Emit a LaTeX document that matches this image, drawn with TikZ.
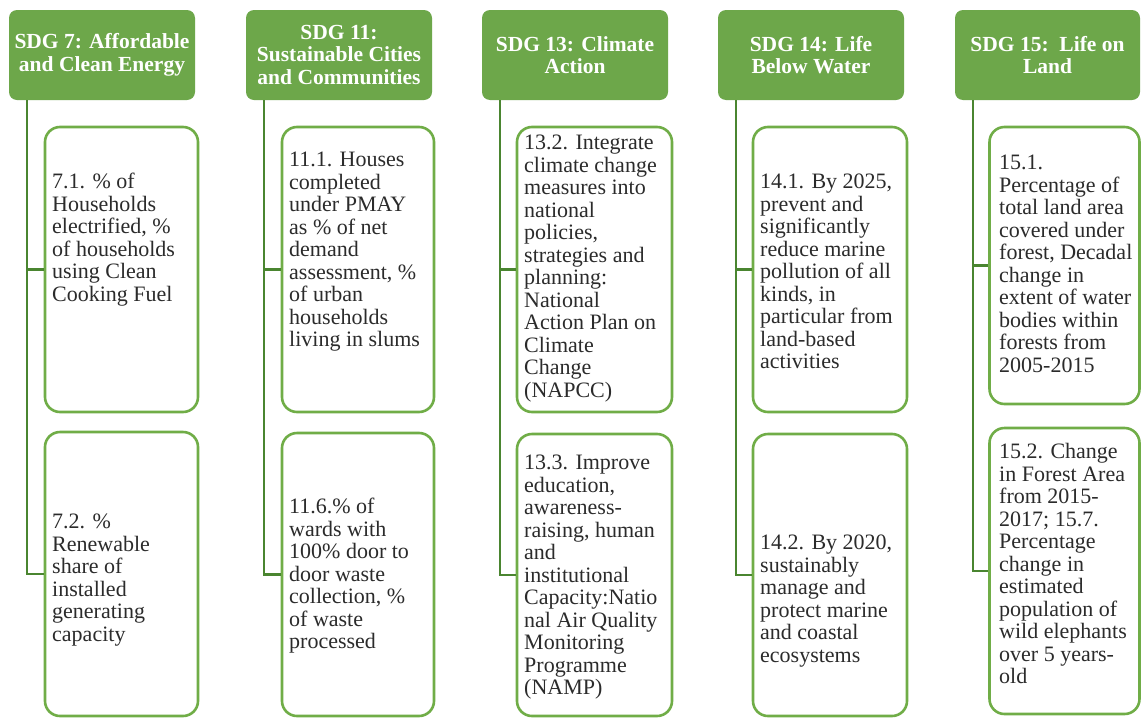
\documentclass[tikz,border=0pt]{standalone}
\usepackage{fontspec}
\setmainfont{Liberation Serif}
\definecolor{hdrgreen}{HTML}{6DA74A}
\definecolor{boxgreen}{HTML}{70AD47}
\definecolor{conngreen}{HTML}{4A8530}
\definecolor{txtgray}{HTML}{2B2B2B}
\tikzset{
  hdr/.style={rectangle, rounded corners=8pt, fill=hdrgreen, draw=none, text=white,
    font=\fontsize{21.5}{22.5}\selectfont\bfseries, align=center, inner sep=0pt},
  sbox/.style={rectangle, rounded corners=15pt, draw=boxgreen, line width=2.6pt, fill=white, inner sep=0pt},
  txt/.style={anchor=north west, inner sep=0pt, align=left, text=txtgray,
    font=\fontsize{22}{22.5}\selectfont},
  conn/.style={draw=conngreen, line width=2.4pt}
}
\begin{document}
\begin{tikzpicture}[x=1pt,y=-1pt]
\useasboundingbox[fill=white] (0,0) rectangle (1141,718);
% headers
\node[hdr, minimum width=186pt, minimum height=90pt] (h1) at (102,55) {SDG 7: Affordable\\and Clean Energy};
\node[hdr, minimum width=186pt, minimum height=90pt] (h2) at (339,55) {SDG 11:\\Sustainable Cities\\and Communities};
\node[hdr, minimum width=186pt, minimum height=90pt] (h3) at (575,55) {SDG 13: Climate\\Action};
\node[hdr, minimum width=186pt, minimum height=90pt] (h4) at (811,55) {SDG 14: Life\\Below Water};
\node[hdr, minimum width=185pt, minimum height=90pt] (h5) at (1047.5,55) {SDG 15:\ \ Life on\\Land};
% boxes
\node[sbox, minimum width=153pt, minimum height=285pt] (b11) at (121.5,269.5) {};
\node[sbox, minimum width=153pt, minimum height=284pt] (b12) at (121.5,574) {};
\node[sbox, minimum width=152pt, minimum height=285pt] (b21) at (358,269.5) {};
\node[sbox, minimum width=152pt, minimum height=283pt] (b22) at (358,574.5) {};
\node[sbox, minimum width=155pt, minimum height=285pt] (b31) at (594.5,269.5) {};
\node[sbox, minimum width=155pt, minimum height=282pt] (b32) at (594.5,575) {};
\node[sbox, minimum width=154pt, minimum height=285pt] (b41) at (830,269.5) {};
\node[sbox, minimum width=154pt, minimum height=282pt] (b42) at (830,575) {};
\node[sbox, minimum width=150pt, minimum height=277pt] (b51) at (1064.5,265.5) {};
\node[sbox, minimum width=150pt, minimum height=286pt] (b52) at (1064.5,571) {};
% connectors
\foreach \c in {1,...,5}{
  \draw[conn] ([xshift=18pt]h\c.south west) |- (b\c1.west);
  \draw[conn] ([xshift=18pt]h\c.south west) |- (b\c2.west);
}
% texts
\node[txt] (t11) at (52,173) {\strut 7.1. \% of\\Households\\electrified, \%\\of households\\using Clean\\Cooking Fuel};
\node[txt] (t12) at (52,513) {\strut 7.2. \%\\Renewable\\share of\\installed\\generating\\capacity};
\node[txt] (t21) at (289,151) {\strut 11.1. Houses\\completed\\under PMAY\\as \% of net\\demand\\assessment, \%\\of urban\\households\\living in slums};
\node[txt] (t22) at (289,498) {\strut 11.6.\% of\\wards with\\100\% door to\\door waste\\collection, \%\\of waste\\processed};
\node[txt] (t31) at (524,134) {\strut 13.2. Integrate\\climate change\\measures into\\national\\policies,\\strategies and\\planning:\\National\\Action Plan on\\Climate\\Change\\(NAPCC)};
\node[txt] (t32) at (524,454) {\strut 13.3. Improve\\education,\\awareness-\\raising, human\\and\\institutional\\Capacity:Natio\\nal Air Quality\\Monitoring\\Programme\\(NAMP)};
\node[txt] (t41) at (760,173) {\strut 14.1. By 2025,\\prevent and\\significantly\\reduce marine\\pollution of all\\kinds, in\\particular from\\land-based\\activities};
\node[txt] (t42) at (760,534) {\strut 14.2. By 2020,\\sustainably\\manage and\\protect marine\\and coastal\\ecosystems};
\node[txt] (t51) at (999,154) {\strut 15.1.\\Percentage of\\total land area\\covered under\\forest, Decadal\\change in\\extent of water\\bodies within\\forests from\\2005-2015};
\node[txt] (t52) at (999,443) {\strut 15.2. Change\\in Forest Area\\from 2015-\\2017; 15.7.\\Percentage\\change in\\estimated\\population of\\wild elephants\\over 5 years-\\old};
\end{tikzpicture}
\end{document}
